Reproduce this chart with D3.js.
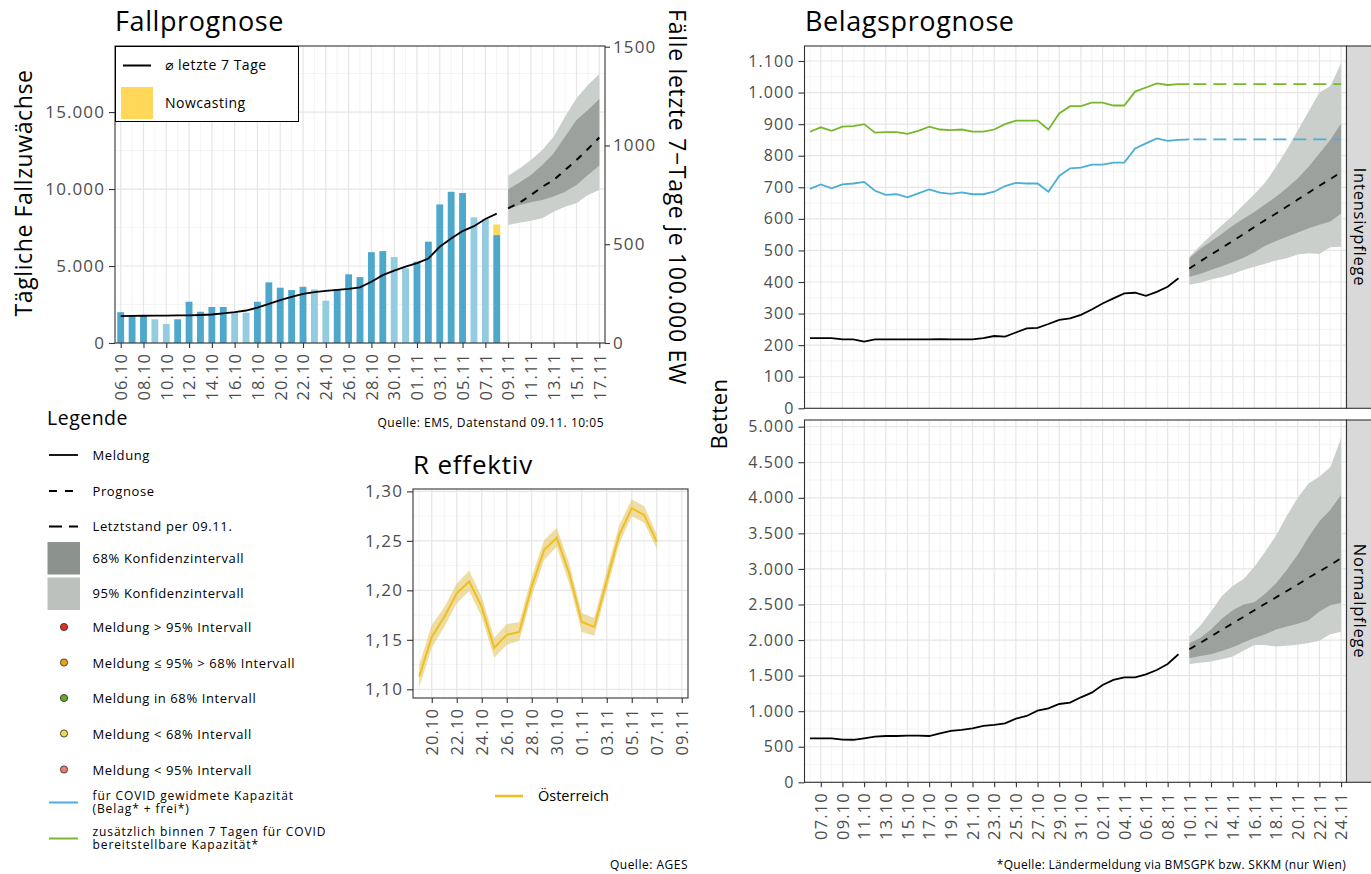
<!DOCTYPE html>
<html>
<head>
<meta charset="utf-8">
<script src="https://d3js.org/d3.v7.min.js"></script>
<style>
body { margin: 0; background: #fff; }
text { font-family: "Open Sans", "DejaVu Sans", sans-serif; }
</style>
</head>
<body>
<div id="chart"></div>
<script>
// ---- Fallprognose ----
var caseDays = ["06.10","07.10","08.10","09.10","10.10","11.10","12.10","13.10","14.10","15.10","16.10","17.10","18.10","19.10","20.10","21.10","22.10","23.10","24.10","25.10","26.10","27.10","28.10","29.10","30.10","31.10","01.11","02.11","03.11","04.11","05.11","06.11","07.11","08.11"];
var cases = [2000,1760,1800,1540,1230,1540,2680,2030,2340,2340,1990,1970,2680,3940,3590,3440,3650,3480,2750,3480,4460,4280,5900,5970,5580,4850,5280,6580,9000,9820,9740,8160,8050,7010];
var nowcast = [0,0,0,0,0,0,0,0,0,0,0,0,0,0,0,0,0,0,0,0,0,0,0,0,0,0,0,0,0,0,0,0,0,690];
var weekend = [0,0,0,1,1,0,0,0,0,0,1,1,0,0,0,0,0,1,1,0,0,0,0,0,1,1,0,0,0,0,0,1,1,0];
var avg7 = [1750,1760,1770,1775,1780,1790,1800,1820,1850,1920,2000,2110,2300,2540,2780,2990,3190,3300,3380,3450,3520,3610,3980,4410,4700,4960,5190,5490,6250,6790,7270,7590,8050,8400];
var incDays = ["09.11","10.11","11.11","12.11","13.11","14.11","15.11","16.11","17.11"];
var incMed = [682,710,749,791,825,876,926,982,1040];
var incLo68 = [677,699,712,724,741,766,800,850,898];
var incHi68 = [778,812,850,901,960,1045,1129,1180,1235];
var incLo95 = [597,609,619,631,665,690,707,749,775];
var incHi95 = [847,884,926,977,1045,1146,1239,1306,1362];
var caseTicks = ["06.10","08.10","10.10","12.10","14.10","16.10","18.10","20.10","22.10","24.10","26.10","28.10","30.10","01.11","03.11","05.11","07.11","09.11","11.11","13.11","15.11","17.11"];
var caseYTicks = [0,5000,10000,15000];
var incYTicks = [0,500,1000,1500];

// ---- R effektiv ----
var rDays = ["19.10","20.10","21.10","22.10","23.10","24.10","25.10","26.10","27.10","28.10","29.10","30.10","31.10","01.11","02.11","03.11","04.11","05.11","06.11","07.11"];
var rMed = [1.113,1.153,1.173,1.197,1.209,1.183,1.142,1.155,1.158,1.204,1.241,1.253,1.217,1.168,1.163,1.210,1.256,1.283,1.276,1.249];
var rLo = [1.102,1.142,1.163,1.187,1.199,1.173,1.132,1.145,1.149,1.194,1.231,1.244,1.207,1.158,1.154,1.200,1.247,1.275,1.268,1.242];
var rHi = [1.125,1.165,1.183,1.207,1.220,1.193,1.152,1.166,1.168,1.214,1.251,1.263,1.227,1.177,1.172,1.220,1.266,1.292,1.285,1.257];
var rTicks = ["20.10","22.10","24.10","26.10","28.10","30.10","01.11","03.11","05.11","07.11","09.11"];
var rYTicks = [1.10,1.15,1.20,1.25,1.30];

// ---- Belagsprognose ----
var bedDays = ["06.10","07.10","08.10","09.10","10.10","11.10","12.10","13.10","14.10","15.10","16.10","17.10","18.10","19.10","20.10","21.10","22.10","23.10","24.10","25.10","26.10","27.10","28.10","29.10","30.10","31.10","01.11","02.11","03.11","04.11","05.11","06.11","07.11","08.11","09.11","10.11"];
var icuObs = [222,222,222,218,218,211,218,218,218,218,218,218,219,218,218,218,222,229,227,240,253,255,267,280,285,296,313,332,348,364,366,356,369,385,412];
var wardObs = [619,619,619,600,598,619,642,651,651,656,656,651,689,722,736,759,792,806,829,895,933,1007,1040,1101,1120,1195,1260,1368,1439,1476,1476,1518,1579,1664,1800];
var icuCapCovid = [695,709,697,709,712,717,689,676,678,668,681,693,683,679,684,678,678,686,704,714,712,712,686,736,760,762,772,772,778,778,823,839,855,847,850,852];
var icuCapExtra = [876,890,879,892,894,900,873,875,875,869,879,892,883,881,883,876,876,883,900,911,911,911,883,934,957,957,968,968,959,959,1003,1016,1029,1024,1027,1027];
var fcDays = ["10.11","11.11","12.11","13.11","14.11","15.11","16.11","17.11","18.11","19.11","20.11","21.11","22.11","23.11","24.11"];
var icuMed = [443,465,487,508,530,552,574,596,617,639,661,683,705,726,748];
var icuLo68 = [417,425,438,450,463,477,494,515,530,543,557,570,581,592,617];
var icuHi68 = [475,505,528,553,578,600,622,646,670,698,728,765,807,850,902];
var icuLo95 = [391,398,408,416,425,438,448,458,468,475,487,491,489,510,512];
var icuHi95 = [480,515,548,580,610,645,678,715,765,820,880,940,1000,1020,1093];
var wardMed = [1870,1960,2050,2145,2235,2325,2420,2510,2600,2690,2780,2875,2965,3055,3149];
var wardLo68 = [1743,1775,1800,1845,1900,1965,2030,2080,2150,2190,2230,2280,2400,2490,2520];
var wardHi68 = [1954,2030,2150,2300,2420,2500,2530,2650,2800,2990,3200,3450,3670,3830,4039];
var wardLo95 = [1664,1680,1700,1730,1770,1850,1930,1930,1910,1920,1935,1960,1990,2080,2118];
var wardHi95 = [2048,2200,2400,2620,2760,2860,3030,3240,3470,3750,4000,4200,4300,4430,4836];
var bedTicks = ["07.10","09.10","11.10","13.10","15.10","17.10","19.10","21.10","23.10","25.10","27.10","29.10","31.10","02.11","04.11","06.11","08.11","10.11","12.11","14.11","16.11","18.11","20.11","22.11","24.11"];
var icuYTicks = [0,100,200,300,400,500,600,700,800,900,1000,1100];
var wardYTicks = [0,500,1000,1500,2000,2500,3000,3500,4000,4500,5000];

var legendRows = [
  {type: "line", label: "Meldung"},
  {type: "dash", label: "Prognose"},
  {type: "long", label: "Letztstand per 09.11."},
  {type: "rect", color: "#8c928e", label: "68% Konfidenzintervall"},
  {type: "rect", color: "#bcc1bd", label: "95% Konfidenzintervall"},
  {type: "dot", color: "#e2331c", label: "Meldung > 95% Intervall"},
  {type: "dot", color: "#e8a317", label: "Meldung ≤ 95% > 68% Intervall"},
  {type: "dot", color: "#69a92a", label: "Meldung in 68% Intervall"},
  {type: "dot", color: "#f5d74e", label: "Meldung < 68% Intervall"},
  {type: "dot", color: "#ef7b6b", label: "Meldung < 95% Intervall"},
  {type: "cap", color: "#4aafd5", label: ["für COVID gewidmete Kapazität", "(Belag* + frei*)"]},
  {type: "cap", color: "#77b82a", label: ["zusätzlich binnen 7 Tagen für COVID", "bereitstellbare Kapazität*"]}
];

var col = {dark: "#4ea8cc", light: "#93cbe0", now: "#ffd85a", b95: "#cbcfcc", b68: "#9ca19d",
           r: "#f0be22", rBand: "#e3c866", blue: "#4aafd5", green: "#77b82a"};

var loc = d3.formatLocale({decimal: ",", thousands: ".", grouping: [3], currency: ["", ""]});
var fmtN = loc.format(",.0f"), fmtR = loc.format(".2f");

function day(s) { var p = s.split("."); return new Date(Date.UTC(2020, +p[1] - 1, +p[0])); }
function half(s) { return new Date(+day(s) + 12 * 3600e3); }

var svg = d3.select("#chart").append("svg").attr("width", 1371).attr("height", 874);

function grid(g, x, y, xTicks, yMajor, yMinor) {
  var xr = x.range(), yr = y.range();
  var maj = xTicks.map(function(s) { return +day(s); });
  var days = d3.utcDay.range(d3.utcDay.ceil(x.domain()[0]), x.domain()[1]);
  var minX = days.filter(function(d) { return maj.indexOf(+d) < 0; });
  g.selectAll(null).data(yMinor).enter().append("line")
    .attr("x1", xr[0]).attr("x2", xr[1]).attr("y1", y).attr("y2", y)
    .attr("stroke", "#ededed").attr("stroke-width", 0.6);
  g.selectAll(null).data(minX).enter().append("line")
    .attr("x1", x).attr("x2", x).attr("y1", yr[0]).attr("y2", yr[1])
    .attr("stroke", "#ededed").attr("stroke-width", 0.6);
  g.selectAll(null).data(yMajor).enter().append("line")
    .attr("x1", xr[0]).attr("x2", xr[1]).attr("y1", y).attr("y2", y)
    .attr("stroke", "#e6e6e6").attr("stroke-width", 1.2);
  g.selectAll(null).data(maj).enter().append("line")
    .attr("x1", x).attr("x2", x).attr("y1", yr[0]).attr("y2", yr[1])
    .attr("stroke", "#e6e6e6").attr("stroke-width", 1.2);
}

function border(g, x, y) {
  var xr = x.range(), yr = y.range();
  g.append("rect").attr("x", xr[0]).attr("y", yr[1]).attr("width", xr[1] - xr[0]).attr("height", yr[0] - yr[1])
    .attr("fill", "none").attr("stroke", "#333").attr("stroke-width", 1.1);
}

function styleAxis(a, size) {
  a.select(".domain").remove();
  a.selectAll(".tick line").attr("stroke", "#333").attr("stroke-width", 1.1);
  a.selectAll("text").attr("fill", "#4d4d4d").style("font-size", size + "px").style("letter-spacing", "1.1px");
}

function xAxis(g, x, yPos, ticks) {
  var a = g.append("g").attr("transform", "translate(0," + yPos + ")")
    .call(d3.axisBottom(x).tickValues(ticks.map(day)).tickSize(5).tickFormat(d3.utcFormat("%d.%m")));
  styleAxis(a, 16.5);
  a.selectAll("text").attr("x", -10).attr("y", 0).attr("dy", "0.35em")
    .attr("transform", "rotate(-90)").style("text-anchor", "end");
}

function yAxis(g, y, xPos, ticks, fmt, right, size) {
  var ax = right ? d3.axisRight(y) : d3.axisLeft(y);
  var a = g.append("g").attr("transform", "translate(" + xPos + ",0)")
    .call(ax.tickValues(ticks).tickSize(right ? 5 : 6).tickPadding(right ? 3 : 4).tickFormat(fmt));
  styleAxis(a, size || 17);
}

function title(txt, x, y, size, anchor, rot, sp) {
  var t = svg.append("text").text(txt).attr("font-size", size).attr("fill", "#000")
    .style("letter-spacing", (sp || 0) + "px");
  if (rot) t.attr("transform", "translate(" + x + "," + y + ") rotate(" + rot + ")").attr("text-anchor", "middle").attr("dy", "0.35em");
  else t.attr("x", x).attr("y", y).attr("text-anchor", anchor || "start");
  return t;
}

// ================= Fallprognose =================
var xC = d3.scaleUtc().domain([half("05.10"), half("17.11")]).range([115, 605]);
var yC = d3.scaleLinear().domain([0, 19290]).range([343, 46]);
var yI = d3.scaleLinear().domain([0, 1503.5]).range([343, 46]);
var gC = svg.append("g");
grid(gC, xC, yC, caseTicks, [0, 5000, 10000, 15000], [2500, 7500, 12500, 17500]);

var bw = (xC(day("07.10")) - xC(day("06.10"))) * 0.6;
gC.selectAll(".bar").data(caseDays).enter().append("rect")
  .attr("x", function(d) { return xC(day(d)) - bw / 2; })
  .attr("width", bw)
  .attr("y", function(d, i) { return yC(cases[i]); })
  .attr("height", function(d, i) { return yC(0) - yC(cases[i]); })
  .attr("fill", function(d, i) { return weekend[i] ? col.light : col.dark; });
gC.selectAll(".now").data(caseDays.filter(function(d, i) { return nowcast[i] > 0; })).enter().append("rect")
  .attr("x", function(d) { return xC(day(d)) - bw / 2; })
  .attr("width", bw)
  .attr("y", function(d) { var i = caseDays.indexOf(d); return yC(cases[i] + nowcast[i]); })
  .attr("height", function(d) { var i = caseDays.indexOf(d); return yC(cases[i]) - yC(cases[i] + nowcast[i]); })
  .attr("fill", col.now);

gC.append("path").datum(incDays)
  .attr("d", d3.area().x(function(d) { return xC(day(d)); })
    .y0(function(d, i) { return yI(incLo95[i]); }).y1(function(d, i) { return yI(incHi95[i]); }))
  .attr("fill", col.b95);
gC.append("path").datum(incDays)
  .attr("d", d3.area().x(function(d) { return xC(day(d)); })
    .y0(function(d, i) { return yI(incLo68[i]); }).y1(function(d, i) { return yI(incHi68[i]); }))
  .attr("fill", col.b68);
gC.append("path").datum(incDays)
  .attr("d", d3.line().x(function(d) { return xC(day(d)); }).y(function(d, i) { return yI(incMed[i]); }))
  .attr("fill", "none").attr("stroke", "#000").attr("stroke-width", 2).attr("stroke-dasharray", "7,7");
gC.append("path").datum(caseDays)
  .attr("d", d3.line().x(function(d) { return xC(day(d)); }).y(function(d, i) { return yC(avg7[i]); }))
  .attr("fill", "none").attr("stroke", "#000").attr("stroke-width", 1.8);
border(gC, xC, yC);
xAxis(gC, xC, 343, caseTicks);
yAxis(gC, yC, 115, caseYTicks, fmtN, false);
yAxis(gC, yI, 605, incYTicks, d3.format("d"), true);

var lg = gC.append("g");
lg.append("rect").attr("x", 115.5).attr("y", 46.5).attr("width", 183).attr("height", 75)
  .attr("fill", "#fff").attr("stroke", "#000").attr("stroke-width", 1);
lg.append("line").attr("x1", 123).attr("x2", 151).attr("y1", 65.5).attr("y2", 65.5).attr("stroke", "#000").attr("stroke-width", 2);
lg.append("text").attr("x", 165).attr("y", 65.5).attr("dy", "0.35em").attr("font-size", 14).style("letter-spacing", "0.5px").text("⌀ letzte 7 Tage");
lg.append("rect").attr("x", 121).attr("y", 87).attr("width", 32).attr("height", 32).attr("fill", col.now);
lg.append("text").attr("x", 165).attr("y", 103.5).attr("dy", "0.35em").attr("font-size", 14).style("letter-spacing", "0.5px").text("Nowcasting");

title("Fallprognose", 115, 31, 27, null, null, 0.6);
title("Tägliche Fallzuwächse", 24, 193, 23, null, -90, 0.6);
title("Fälle letzte 7−Tage je 100.000 EW", 677, 197, 23, null, 90, 0.7);
title("Quelle: EMS, Datenstand 09.11. 10:05", 604, 427, 12, "end", null, 0.5);

// ================= Legende =================
var gl = svg.append("g");
title("Legende", 47, 425, 19.5, null, null, 0.5);
var rowY = [455, 491, 526.5, 558, 593.5, 627.5, 663, 698.5, 734, 770, 802.5, 838.5];
legendRows.forEach(function(r, i) {
  var y = rowY[i];
  if (r.type === "line" || r.type === "dash" || r.type === "long" || r.type === "cap") {
    gl.append("line").attr("x1", 49).attr("x2", 78).attr("y1", y).attr("y2", y)
      .attr("stroke", r.color || "#000").attr("stroke-width", r.type === "cap" ? 2 : 1.8)
      .attr("stroke-dasharray", r.type === "dash" ? "8,8" : r.type === "long" ? "13,7" : null);
  } else if (r.type === "rect") {
    gl.append("rect").attr("x", 47.5).attr("y", y - 16).attr("width", 32.5).attr("height", 32.5).attr("fill", r.color);
  } else {
    gl.append("circle").attr("cx", 64).attr("cy", y - 0.5).attr("r", 3.6).attr("fill", r.color)
      .attr("stroke", "#222").attr("stroke-width", 0.8);
  }
  var lines = Array.isArray(r.label) ? r.label : [r.label];
  var multi = lines.length > 1;
  var t = gl.append("text").attr("font-size", multi ? 12 : 13)
    .style("letter-spacing", multi ? "0.9px" : "0.6px");
  lines.forEach(function(l, j) {
    t.append("tspan").attr("x", 92.5)
      .attr("y", y + (j - (lines.length - 1) / 2) * 13.4).attr("dy", "0.35em").text(l);
  });
});

// ================= R effektiv =================
var xR = d3.scaleUtc().domain([half("18.10"), half("09.11")]).range([413, 688]);
var yR = d3.scaleLinear().domain([1.0912, 1.3024]).range([698, 489]);
var gR = svg.append("g");
grid(gR, xR, yR, rTicks, rYTicks, [1.125, 1.175, 1.225, 1.275]);
gR.append("path").datum(rDays)
  .attr("d", d3.area().x(function(d) { return xR(day(d)); })
    .y0(function(d, i) { return yR(rLo[i]); }).y1(function(d, i) { return yR(rHi[i]); }))
  .attr("fill", col.rBand).attr("fill-opacity", 0.6);
gR.append("path").datum(rDays)
  .attr("d", d3.line().x(function(d) { return xR(day(d)); }).y(function(d, i) { return yR(rMed[i]); }))
  .attr("fill", "none").attr("stroke", col.r).attr("stroke-width", 2);
border(gR, xR, yR);
xAxis(gR, xR, 698, rTicks);
yAxis(gR, yR, 413, rYTicks, fmtR, false);
title("R effektiv", 413, 474, 26, null, null, 0.8);
gR.append("line").attr("x1", 495).attr("x2", 523).attr("y1", 796).attr("y2", 796).attr("stroke", col.r).attr("stroke-width", 2.5);
gR.append("text").attr("x", 538).attr("y", 796).attr("dy", "0.35em").attr("font-size", 14.5).text("Österreich");
title("Quelle: AGES", 688, 869, 12, "end", null, 0.5);

// ================= Belagsprognose =================
var xB = d3.scaleUtc().domain([half("05.10"), half("24.11")]).range([804.5, 1346.5]);
var yTop = d3.scaleLinear().domain([0, 1147.5]).range([408.3, 46]);
var yBot = d3.scaleLinear().domain([0, 5094]).range([782.3, 420]);
var obsDays = bedDays.slice(0, icuObs.length);

function bedPanel(y, yMaj, yMin, obs, med, lo68, hi68, lo95, hi95, caps) {
  var g = svg.append("g");
  grid(g, xB, y, bedTicks, yMaj, yMin);
  g.append("path").datum(fcDays)
    .attr("d", d3.area().x(function(d) { return xB(day(d)); })
      .y0(function(d, i) { return y(lo95[i]); }).y1(function(d, i) { return y(hi95[i]); }))
    .attr("fill", col.b95);
  g.append("path").datum(fcDays)
    .attr("d", d3.area().x(function(d) { return xB(day(d)); })
      .y0(function(d, i) { return y(lo68[i]); }).y1(function(d, i) { return y(hi68[i]); }))
    .attr("fill", col.b68);
  caps.forEach(function(c) {
    g.append("path").datum(bedDays)
      .attr("d", d3.line().x(function(d) { return xB(day(d)); }).y(function(d, i) { return y(c.v[i]); }))
      .attr("fill", "none").attr("stroke", c.color).attr("stroke-width", 1.8);
    var last = c.v[c.v.length - 1];
    g.append("path").datum([bedDays[bedDays.length - 1], fcDays[fcDays.length - 1]])
      .attr("d", d3.line().x(function(d) { return xB(day(d)); }).y(function() { return y(last); }))
      .attr("fill", "none").attr("stroke", c.color).attr("stroke-width", 1.8).attr("stroke-dasharray", "13,7")
      .attr("stroke-dashoffset", -4);
  });
  g.append("path").datum(fcDays)
    .attr("d", d3.line().x(function(d) { return xB(day(d)); }).y(function(d, i) { return y(med[i]); }))
    .attr("fill", "none").attr("stroke", "#000").attr("stroke-width", 1.8).attr("stroke-dasharray", "7,7");
  g.append("path").datum(obsDays)
    .attr("d", d3.line().x(function(d) { return xB(day(d)); }).y(function(d, i) { return y(obs[i]); }))
    .attr("fill", "none").attr("stroke", "#000").attr("stroke-width", 1.8);
  border(g, xB, y);
  yAxis(g, y, 804.5, yMaj, fmtN, false, 16);
  var yr = y.range();
  g.append("rect").attr("x", 1346.5).attr("y", yr[1]).attr("width", 30).attr("height", yr[0] - yr[1])
    .attr("fill", "#d9d9d9").attr("stroke", "#333").attr("stroke-width", 1.1);
  return g;
}

var icuMin = d3.range(50, 1150, 100), wardMin = d3.range(250, 5100, 500);
bedPanel(yTop, icuYTicks, icuMin, icuObs, icuMed, icuLo68, icuHi68, icuLo95, icuHi95,
  [{v: icuCapExtra, color: col.green}, {v: icuCapCovid, color: col.blue}]);
var gB = bedPanel(yBot, wardYTicks, wardMin, wardObs, wardMed, wardLo68, wardHi68, wardLo95, wardHi95, []);
xAxis(gB, xB, 782.3, bedTicks);

title("Intensivpflege", 1359.5, 227, 16.5, null, 90, 0.8);
title("Normalpflege", 1359.5, 601, 16.5, null, 90, 0.8);
title("Belagsprognose", 805, 31, 27, null, null, 0.6);
title("Betten", 719, 414, 22, null, -90, 0.5);
title("*Quelle: Ländermeldung via BMSGPK bzw. SKKM (nur Wien)", 1346, 869, 12, "end", null, 0.3);
</script>
</body>
</html>
